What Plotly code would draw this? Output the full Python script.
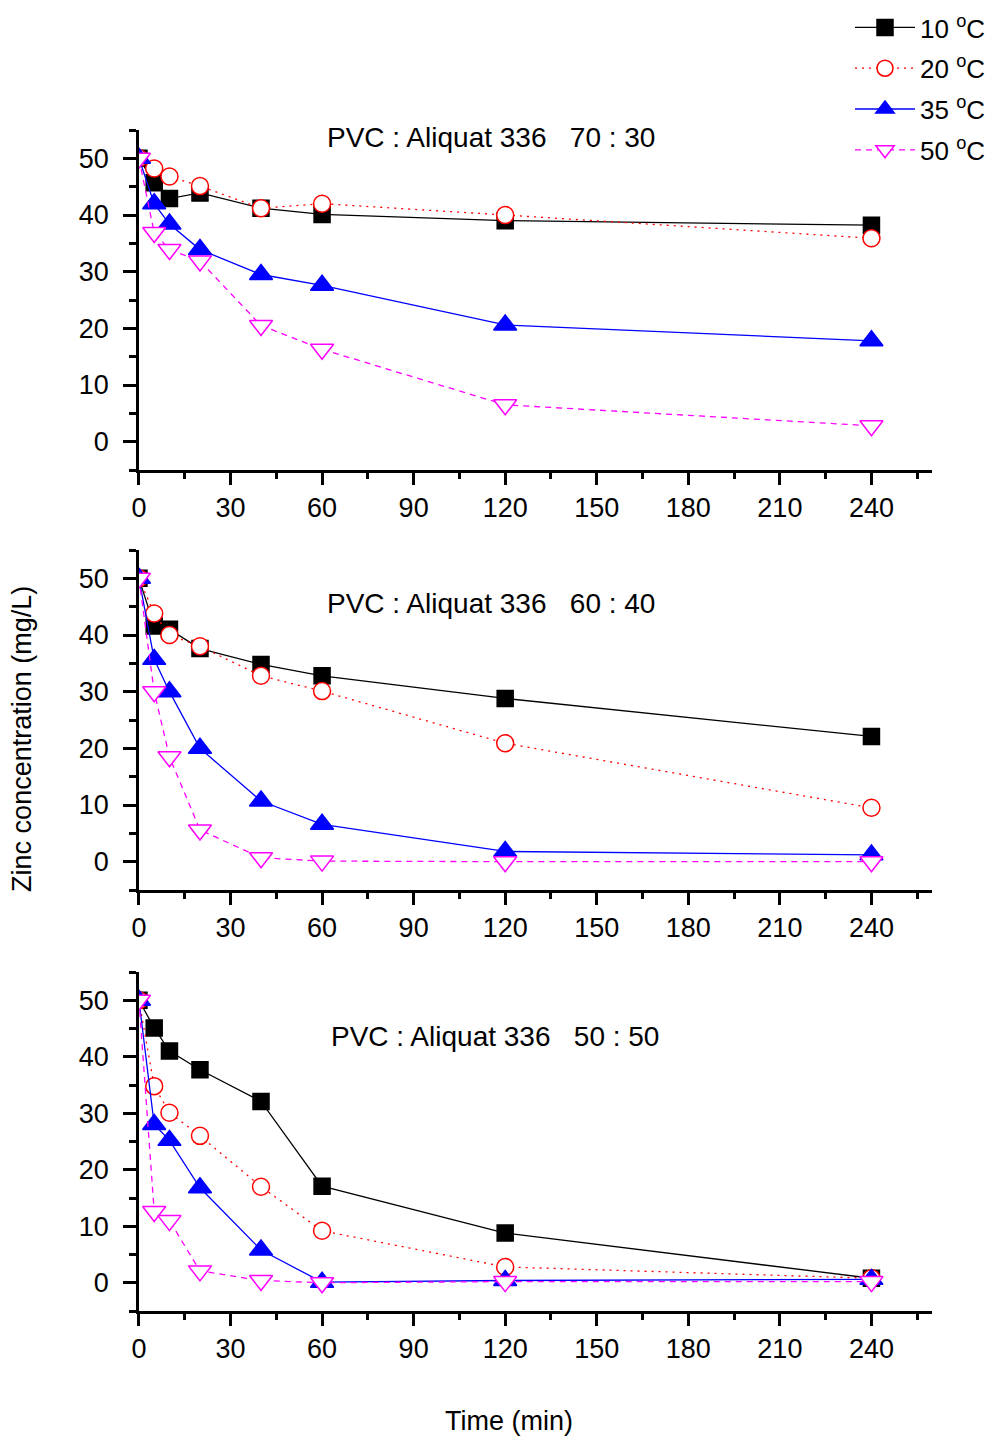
import plotly.graph_objects as go

# Sampling times (min)
time_min = [0, 5, 10, 20, 40, 60, 120, 240]

# Zinc concentration (mg/L) for each membrane composition and temperature
pvc70_10c = [50, 45.7, 42.9, 43.9, 41.2, 40.1, 39.0, 38.2]
pvc70_20c = [50, 48.2, 46.8, 45.1, 41.2, 42.0, 40.0, 35.9]
pvc70_35c = [50, 42.0, 38.4, 33.9, 29.5, 27.6, 20.6, 17.8]
pvc70_50c = [50, 36.9, 33.9, 31.9, 20.5, 16.3, 6.5, 2.8]

pvc60_10c = [50, 41.6, 41.0, 37.6, 34.8, 32.8, 28.8, 22.1]
pvc60_20c = [50, 43.8, 40.0, 38.0, 32.8, 30.1, 20.9, 9.5]
pvc60_35c = [50, 35.7, 30.0, 20.0, 10.7, 6.6, 1.8, 1.2]
pvc60_50c = [50, 30.0, 18.5, 5.6, 0.7, 0.1, 0.0, 0.0]

pvc50_10c = [50, 45.1, 41.0, 37.7, 32.1, 17.1, 8.8, 0.8]
pvc50_20c = [50, 34.8, 30.1, 26.0, 17.0, 9.2, 2.8, 0.8]
pvc50_35c = [50, 28.0, 25.2, 16.8, 5.8, 0.1, 0.4, 0.6]
pvc50_50c = [50, 12.6, 11.0, 2.1, 0.4, 0.0, 0.2, 0.2]

panel_titles = [
    "PVC : Aliquat 336   70 : 30",
    "PVC : Aliquat 336   60 : 40",
    "PVC : Aliquat 336   50 : 50",
]
temp_labels = ["10 <sup>o</sup>C", "20 <sup>o</sup>C", "35 <sup>o</sup>C", "50 <sup>o</sup>C"]
x_ticks = [0, 30, 60, 90, 120, 150, 180, 210, 240]
y_ticks = [0, 10, 20, 30, 40, 50]

panels = [
    [pvc70_10c, pvc70_20c, pvc70_35c, pvc70_50c],
    [pvc60_10c, pvc60_20c, pvc60_35c, pvc60_50c],
    [pvc50_10c, pvc50_20c, pvc50_35c, pvc50_50c],
]

# Series styling: line colour, dash, marker symbol, marker fill, marker size
styles = [
    dict(color="#000000", dash="solid", symbol="square", fill="#000000", size=16),
    dict(color="#FF0000", dash="2px,5px", symbol="circle", fill="#FFFFFF", size=17),
    dict(color="#0000FF", dash="solid", symbol="triangle-up", fill="#0000FF", size=20),
    dict(color="#FF00FF", dash="6px,5px", symbol="triangle-down", fill="#FFFFFF", size=20),
]

W, H = 992, 1437
x_dom = [132 / W, 932 / W]
# panel (top, bottom) in pixels
panel_px = [(130, 470), (550, 890), (972, 1311)]
title_px = [(487, 137), (487, 603), (491, 1036)]

FONT = "Liberation Sans, Arial, sans-serif"
FS = 27

fig = go.Figure()

for p, series in enumerate(panels):
    xa = "x" if p == 0 else f"x{p + 1}"
    ya = "y" if p == 0 else f"y{p + 1}"
    for s, vals in enumerate(series):
        st = styles[s]
        fig.add_trace(go.Scatter(
            x=time_min, y=vals, xaxis=xa, yaxis=ya,
            mode="lines+markers",
            name=temp_labels[s],
            legendgroup=f"t{s}",
            showlegend=(p == 0),
            line=dict(color=st["color"], width=1.3, dash=st["dash"]),
            marker=dict(symbol=st["symbol"], size=st["size"], color=st["fill"],
                        line=dict(color=st["color"], width=1.5)),
        ))

axis_font = dict(family=FONT, size=FS, color="#000000")
layout = dict(
    width=W, height=H,
    margin=dict(l=0, r=0, t=0, b=0),
    paper_bgcolor="white", plot_bgcolor="white",
    font=dict(family=FONT, color="#000000"),
    showlegend=True,
    legend=dict(
        x=1 - 1 / W, xanchor="right", y=1 - 4 / H, yanchor="top",
        font=dict(family=FONT, size=26, color="#000000"),
        bgcolor="rgba(0,0,0,0)", tracegroupgap=4, itemwidth=60,
    ),
)

for p, (top, bot) in enumerate(panel_px):
    sx = "" if p == 0 else str(p + 1)
    ydom = [1 - bot / H, 1 - top / H]
    layout[f"xaxis{sx}"] = dict(
        domain=x_dom, anchor=f"y{sx}", range=[0, 260],
        tickmode="array", tickvals=x_ticks,
        ticks="outside", ticklen=12, tickwidth=2.5, tickcolor="#000000",
        minor=dict(dtick=15, tick0=0, ticks="outside", ticklen=6, tickwidth=2.5, tickcolor="#000000"),
        showline=True, linewidth=2.5, linecolor="#000000",
        showgrid=False, zeroline=False, tickfont=axis_font,
    )
    layout[f"yaxis{sx}"] = dict(
        domain=ydom, anchor=f"x{sx}", range=[-5, 55],
        tickmode="array", tickvals=y_ticks,
        ticks="outside", ticklen=13, tickwidth=2.5, tickcolor="#000000",
        minor=dict(dtick=5, tick0=0, ticks="outside", ticklen=7, tickwidth=2.5, tickcolor="#000000"),
        showline=True, linewidth=2.5, linecolor="#000000",
        showgrid=False, zeroline=False, tickfont=axis_font,
        ticklabelstandoff=9,
    )

annotations = []
for p, (tx, ty) in enumerate(title_px):
    annotations.append(dict(
        text=panel_titles[p], xref="paper", yref="paper",
        x=tx / W, y=1 - ty / H, xanchor="center", yanchor="middle",
        showarrow=False, font=dict(family=FONT, size=28, color="#000000"),
    ))
annotations.append(dict(
    text="Time (min)", xref="paper", yref="paper",
    x=505 / W, y=1 - 1421 / H, xanchor="center", yanchor="middle",
    showarrow=False, font=dict(family=FONT, size=FS, color="#000000"),
))
annotations.append(dict(
    text="Zinc concentration (mg/L)", xref="paper", yref="paper",
    x=14 / W, y=1 - 739 / H, xanchor="center", yanchor="middle", textangle=-90,
    showarrow=False, font=dict(family=FONT, size=FS, color="#000000"),
))
layout["annotations"] = annotations

fig.update_layout(**layout)
fig.write_html("out.html")
